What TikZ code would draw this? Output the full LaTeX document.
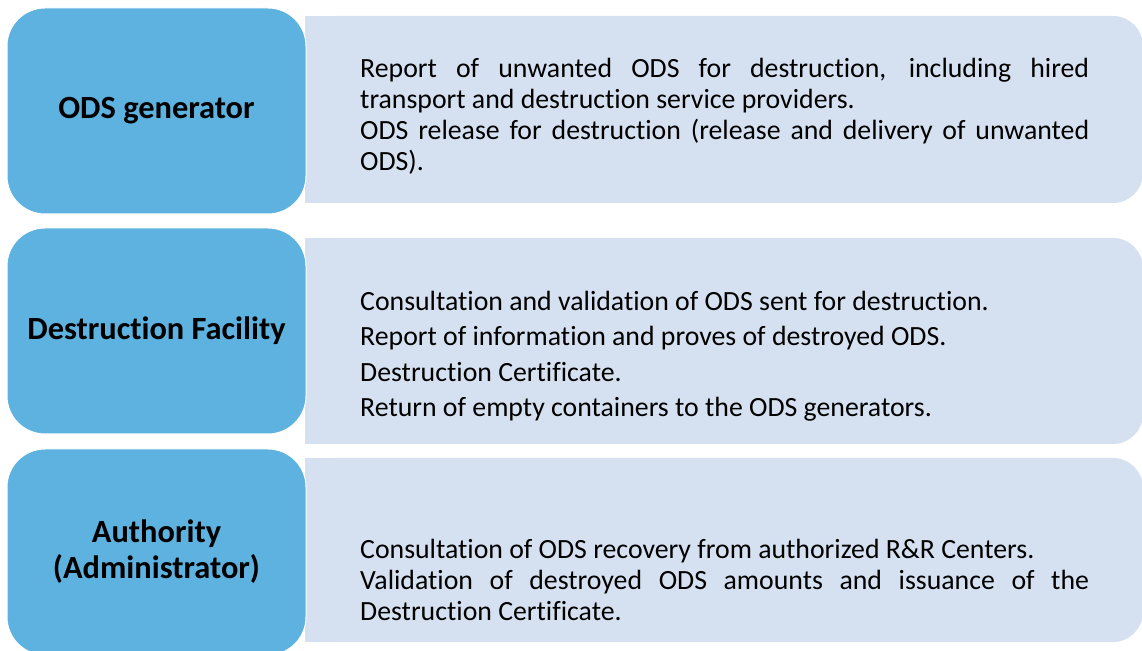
\documentclass[tikz,border=0pt]{standalone}
\usepackage{fontspec}
\setmainfont{Carlito}[Ligatures={NoCommon,NoContextual}, RawFeature={-liga;-clig;-dlig}]
\usepackage{xcolor}
\usepackage{tikz}
\usetikzlibrary{positioning}

\definecolor{roleblue}{RGB}{94,178,224}
\definecolor{taskblue}{RGB}{213,225,240}

\begin{document}
\begin{tikzpicture}[x=1pt,y=1pt,
		role/.style={fill=roleblue, draw=white, line width=1pt, rounded corners=38pt, minimum width=299pt, minimum height=206pt, align=center, font=\fontsize{32.4}{36}\selectfont\bfseries},
		taskbox/.style={fill=taskblue, rounded corners=30pt, minimum width=838pt, inner sep=0pt},
		tasks/.style={anchor=west, inner sep=0pt, text width=729pt, align=justify, font=\fontsize{27.8}{31}\selectfont}]
		\useasboundingbox (0,0) rectangle (1142,650);

		\node[taskbox, minimum height=187pt] (genbox) at (724,540.5) {};
		\node[taskbox, minimum height=206pt] (facbox) at (724,309) {};
		\node[taskbox, minimum height=184pt] (authbox) at (724,100) {};
		\foreach \b in {genbox,facbox,authbox} {
				\fill[taskblue] (\b.north west) rectangle ([xshift=40pt]\b.south west);
			}

		\node[role] (gen) at (156.5,539) {ODS generator};
		\node[role] (fac) at (156.5,319) {Destruction Facility};
		\node[role] (auth) at (156.5,98) {Authority\\(Administrator)};

		\node[tasks] (gentext) at (360,534) {Report of unwanted ODS for destruction, including hired\linebreak transport and destruction service providers.\\
			ODS release for destruction (release and delivery of unwanted\linebreak ODS).};
		\node[tasks, font=\fontsize{27.8}{35.5}\selectfont] (factext) at (360,294) {Consultation and validation of ODS sent for destruction.\\
			Report of information and proves of destroyed ODS.\\
			Destruction Certificate.\\
			Return of empty containers to the ODS generators.};
		\node[tasks] (authtext) at (360,70) {Consultation of ODS recovery from authorized R\&R Centers.\\
			Validation of destroyed ODS amounts and issuance of the\linebreak Destruction Certificate.};
	\end{tikzpicture}
\end{document}
